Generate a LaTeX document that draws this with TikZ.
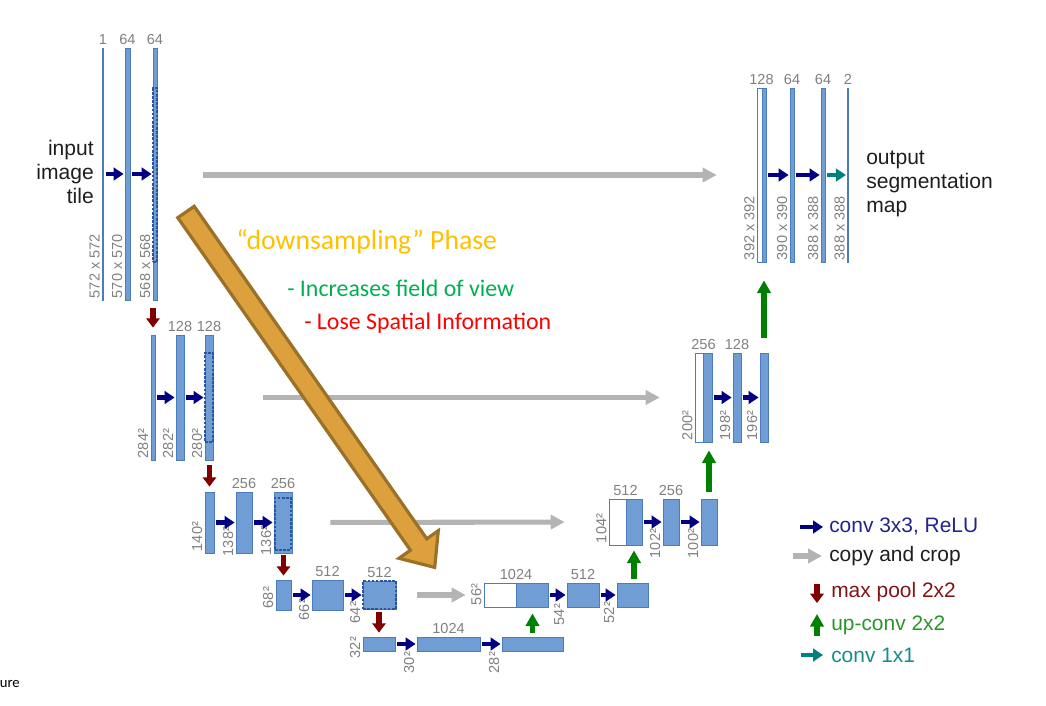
\documentclass[tikz,border=0pt]{standalone}
\usepackage{fontspec}
\setmainfont{Liberation Sans}
\newfontfamily\calfont{Carlito}
\usetikzlibrary{arrows.meta,fit,calc}
\definecolor{barfill}{RGB}{112,157,211}
\definecolor{barline}{RGB}{75,125,190}
\definecolor{cropc}{RGB}{40,85,160}
\definecolor{numc}{RGB}{128,128,128}
\definecolor{convc}{RGB}{0,0,128}
\definecolor{poolc}{RGB}{128,0,0}
\definecolor{upc}{RGB}{0,128,0}
\definecolor{tealc}{RGB}{0,128,128}
\definecolor{copyc}{RGB}{180,180,180}
\definecolor{txtc}{RGB}{30,30,30}
\definecolor{orfill}{RGB}{220,160,60}
\definecolor{ordraw}{RGB}{155,112,40}
\definecolor{goldtxt}{RGB}{255,192,0}
\definecolor{greentxt}{RGB}{0,176,80}
\definecolor{lconv}{RGB}{35,35,140}
\definecolor{lpool}{RGB}{130,20,20}
\definecolor{lup}{RGB}{40,150,40}
\definecolor{lteal}{RGB}{20,140,140}
\newcommand\numsize{\fontsize{10.9pt}{12pt}\selectfont}
\newcommand\bigsize{\fontsize{15.8pt}{18pt}\selectfont}
\newcommand\legsize{\fontsize{15.7pt}{18pt}\selectfont}
\begin{document}
\begin{tikzpicture}[x=0.75pt,y=-0.75pt,
  bar/.style={draw=barline, fill=barfill, line width=0.6pt, inner sep=0pt},
  hollow/.style={draw=barline, fill=white, line width=0.6pt, inner sep=0pt},
  whole/.style={inner sep=0pt},
  crop/.style={draw=cropc, dash pattern=on 2pt off 1.1pt, line width=1.5pt, inner sep=0pt},
  num/.style={text=numc, font=\numsize, inner sep=2pt, anchor=south},
  side/.style={text=numc, font=\numsize, rotate=90, anchor=south west, inner sep=1.5pt},
  conv/.style={draw=convc, line width=3.4pt, -{Triangle[length=7.5pt,width=9.5pt]}, shorten <=1.5pt, shorten >=0.75pt},
  one/.style={draw=tealc, line width=3.4pt, -{Triangle[length=7.5pt,width=9.5pt]}, shorten <=1.5pt, shorten >=0.75pt},
  copyarr/.style={draw=copyc, line width=3.8pt, -{Triangle[length=10.5pt,width=10.5pt]}},
  pool/.style={draw=poolc, line width=3.8pt, -{Triangle[length=7pt,width=10pt]}},
  upc/.style={draw=upc, line width=4.2pt, -{Triangle[length=9.5pt,width=10pt]}},
  legtxt/.style={font=\legsize, anchor=west, inner sep=0pt}
]
\useasboundingbox (0,0) rectangle (1046,706);

% ---------- left level 1
\node[bar, fit={(102.5,48) (103.5,300)}] (b1a) {};
\node[bar, fit={(125,48) (130,300)}] (b1b) {};
\node[bar, fit={(153,48) (157,300)}] (b1c) {};
\node[crop, fit={(153,88) (157,262)}] (c1) {};
\node[num] at (b1a.north) {1};
\node[num] at (b1b.north) {64};
\node[num] at (b1c.north) {64};
\node[side] at (b1a.south west) {572 x 572};
\node[side] at (b1b.south west) {570 x 570};
\node[side] at (b1c.south west) {568 x 568};
\draw[conv] (b1a) -- (b1b);
\draw[conv] (b1b) -- (b1c);
\node[align=right, anchor=east, font=\bigsize, text=txtc, inner sep=0pt] (inp) at (94,172) {input\\image\\tile};

% ---------- left level 2
\node[bar, fit={(151,335) (155,460)}] (b2a) {};
\node[bar, fit={(176,335) (184,460)}] (b2b) {};
\node[bar, fit={(205,335) (213,460)}] (b2c) {};
\node[crop, fit={(205,353) (213,442)}] (c2) {};
\node[num] at (b2b.north) {128};
\node[num] at (b2c.north) {128};
\node[side] at (b2a.south west) {284²};
\node[side] at (b2b.south west) {282²};
\node[side] at (b2c.south west) {280²};
\draw[conv] (b2a) -- (b2b);
\draw[conv] (b2b) -- (b2c);

% ---------- left level 3
\node[bar, fit={(205,492) (214,553)}] (b3a) {};
\node[bar, fit={(236,492) (252,553)}] (b3b) {};
\node[bar, fit={(274,492) (292,553)}] (b3c) {};
\node[crop, fit={(275,498) (291,550)}] (c3) {};
\node[num] at (b3b.north) {256};
\node[num] at (b3c.north) {256};
\node[side] at (b3a.south west) {140²};
\node[side] at ($(b3b.south west)+(0,5)$) {138²};
\node[side] at ($(b3c.south west)+(0,4)$) {136²};
\draw[conv] (b3a) -- (b3b);
\draw[conv] (b3b) -- (b3c);

% ---------- left level 4
\node[bar, fit={(276,580) (291,610)}] (b4a) {};
\node[bar, fit={(312,580) (343,610)}] (b4b) {};
\node[bar, fit={(363,581) (396,609)}] (b4c) {};
\node[crop, fit={(363,581) (396,609)}] (c4) {};
\node[num] at (b4b.north) {512};
\node[num] at (b4c.north) {512};
\node[side] at (b4a.south west) {68²};
\node[side] at ($(b4b.south west)+(0,12)$) {66²};
\node[side] at ($(b4c.south west)+(0,16)$) {64²};
\draw[conv] (b4a) -- (b4b);
\draw[conv] (b4b) -- (b4c);

% ---------- level 5
\node[bar, fit={(363,637) (395,651)}] (b5a) {};
\node[bar, fit={(417,637) (480,651)}] (b5b) {};
\node[bar, fit={(502,637) (563,651)}] (b5c) {};
\node[num] at (b5b.north) {1024};
\node[side] at ($(b5a.south west)+(0,9)$) {32²};
\node[side] at ($(b5b.south west)+(0,24)$) {30²};
\node[side] at ($(b5c.south west)+(0,24)$) {28²};
\draw[conv] (b5a) -- (b5b);
\draw[conv] (b5b) -- (b5c);

% ---------- right level 4
\node[hollow, fit={(484,583) (516,607)}] (cat4w) {};
\node[bar, fit={(516,583) (548,607)}] (cat4b) {};
\node[whole, fit={(484,583) (548,607)}] (cat4) {};
\node[bar, fit={(567,583) (599,607)}] (b4d) {};
\node[bar, fit={(617,583) (648,607)}] (b4e) {};
\node[num] at (cat4.north) {1024};
\node[num] at (b4d.north) {512};
\node[side] at (cat4.south west) {56²};
\node[side] at ($(b4d.south west)+(0,20)$) {54²};
\node[side] at ($(b4e.south west)+(0,18)$) {52²};
\draw[conv] (cat4b) -- (b4d);
\draw[conv] (b4d) -- (b4e);

% ---------- right level 3
\node[hollow, fit={(609,499) (626,545)}] (cat3w) {};
\node[bar, fit={(626,499) (642,545)}] (cat3b) {};
\node[whole, fit={(609,499) (642,545)}] (cat3) {};
\node[bar, fit={(663,499) (679,545)}] (b3d) {};
\node[bar, fit={(701,499) (717,545)}] (b3e) {};
\node[num] at (cat3.north) {512};
\node[num] at (b3d.north) {256};
\node[side] at (cat3.south west) {104²};
\node[side] at ($(b3d.south west)+(0,15)$) {102²};
\node[side] at ($(b3e.south west)+(0,15)$) {100²};
\draw[conv] (cat3b) -- (b3d);
\draw[conv] (b3d) -- (b3e);

% ---------- right level 2
\node[hollow, fit={(695,353) (703,442)}] (cat2w) {};
\node[bar, fit={(703,353) (712,442)}] (cat2b) {};
\node[whole, fit={(695,353) (712,442)}] (cat2) {};
\node[bar, fit={(733,353) (741,442)}] (b2d) {};
\node[bar, fit={(760,353) (768,442)}] (b2e) {};
\node[num] at (cat2.north) {256};
\node[num] at (b2d.north) {128};
\node[side] at (cat2.south west) {200²};
\node[side] at (b2d.south west) {198²};
\node[side] at (b2e.south west) {196²};
\draw[conv] (cat2b) -- (b2d);
\draw[conv] (b2d) -- (b2e);

% ---------- right level 1
\node[hollow, fit={(757,88) (762,262)}] (cat1w) {};
\node[bar, fit={(762,88) (766,262)}] (cat1b) {};
\node[whole, fit={(757,88) (766,262)}] (cat1) {};
\node[bar, fit={(790,88) (794,262)}] (b1d) {};
\node[bar, fit={(821,88) (825,262)}] (b1e) {};
\node[bar, fit={(847.5,88) (848.5,262)}] (b1f) {};
\node[num] at (cat1.north) {128};
\node[num] at (b1d.north) {64};
\node[num] at (b1e.north) {64};
\node[num] at (b1f.north) {2};
\node[side] at (cat1.south west) {392 x 392};
\node[side] at (b1d.south west) {390 x 390};
\node[side] at (b1e.south west) {388 x 388};
\node[side] at (b1f.south west) {388 x 388};
\draw[conv] (cat1b) -- (b1d);
\draw[conv] (b1d) -- (b1e);
\draw[one] (b1e) -- (b1f);
\node[align=left, anchor=west, font=\bigsize, text=txtc, inner sep=0pt] (outp) at (866,184) {output\\segmentation\\map};

% ---------- copy and crop
\draw[copyarr, shorten <=34.5pt, shorten >=30pt] (b1c.east |- cat1.west) -- (cat1.west);
\draw[copyarr, shorten <=37.5pt, shorten >=26.25pt] (b2c.east) -- (cat2.west);
\draw[copyarr, shorten <=28.5pt, shorten >=33pt] (b3c.east) -- (cat3.west);
\draw[copyarr, shorten <=15.75pt, shorten >=13.5pt] (b4c.east) -- (cat4.west);

% ---------- max pool
\draw[pool, shorten <=6pt, shorten >=5.25pt] (b2a.north |- b1c.south) -- (b2a.north);
\draw[pool, shorten <=3.75pt, shorten >=3.75pt] (b3a.north |- b2c.south) -- (b3a.north);
\draw[pool, shorten <=1.5pt, shorten >=3pt] (b4a.north |- b3c.south) -- (b4a.north);
\draw[pool, shorten <=2.25pt, shorten >=3pt] (b5a.north |- b4c.south) -- (b5a.north);

% ---------- up-conv
\draw[upc, shorten <=3pt, shorten >=4.5pt] (b5c.north) -- (b5c.north |- cat4b.south);
\draw[upc, shorten <=3pt, shorten >=3.75pt] (cat3b.south |- b4e.north) -- (cat3b.south);
\draw[upc, shorten <=5.25pt, shorten >=6pt] (b3e.north) -- (b3e.north |- cat2b.south);
\draw[upc, shorten <=11.25pt, shorten >=13.5pt] (b2e.north) -- (b2e.north |- cat1b.south);

% ---------- big orange arrow
\draw[draw=ordraw, fill=orfill, line width=2.4pt, line join=miter]
  (177.8,217.7) -- (410.4,550.2) -- (398.9,558.3) -- (434.7,567.4)
  -- (438.3,530.7) -- (426.8,538.8) -- (194.2,206.3) -- cycle;
\node[anchor=west, inner sep=0pt, text=goldtxt, font={\calfont\fontsize{20.8pt}{24pt}\selectfont}] (t1) at (236,242) {“downsampling” Phase};
\node[anchor=west, inner sep=0pt, text=greentxt, font={\calfont\fontsize{17.9pt}{21pt}\selectfont}] (t2) at (287,288) {- Increases field of view};
\node[anchor=west, inner sep=0pt, text=red, font={\calfont\fontsize{17.9pt}{21pt}\selectfont}] (t3) at (304,323) {- Lose Spatial Information};

% ---------- legend
\coordinate (l1a) at (800,527); \coordinate (l1b) at (823,527);
\draw[draw=convc, line width=3.4pt, -{Triangle[length=7.5pt,width=9.5pt]}] (l1a) -- (l1b);
\node[legtxt, text=lconv] (lt1) at (829,527) {conv 3x3, ReLU};
\coordinate (l2a) at (793,556); \coordinate (l2b) at (822,556);
\draw[copyarr] (l2a) -- (l2b);
\node[legtxt, text=txtc] (lt2) at (829,556) {copy and crop};
\coordinate (l3a) at (817,584); \coordinate (l3b) at (817,603);
\draw[pool] (l3a) -- (l3b);
\node[legtxt, text=lpool] (lt3) at (831,592) {max pool 2x2};
\coordinate (l4a) at (817,636); \coordinate (l4b) at (817,614);
\draw[upc] (l4a) -- (l4b);
\node[legtxt, text=lup] (lt4) at (831,625) {up-conv 2x2};
\coordinate (l5a) at (801,655); \coordinate (l5b) at (823,655);
\draw[draw=tealc, line width=3.4pt, -{Triangle[length=7.5pt,width=9.5pt]}] (l5a) -- (l5b);
\node[legtxt, text=lteal] (lt5) at (831,655) {conv 1x1};

% ---------- cut caption
\node[anchor=base east, inner sep=0pt, font={\calfont\fontsize{11pt}{13pt}\selectfont}] (cap) at (20,687) {ure};
\end{tikzpicture}
\end{document}
